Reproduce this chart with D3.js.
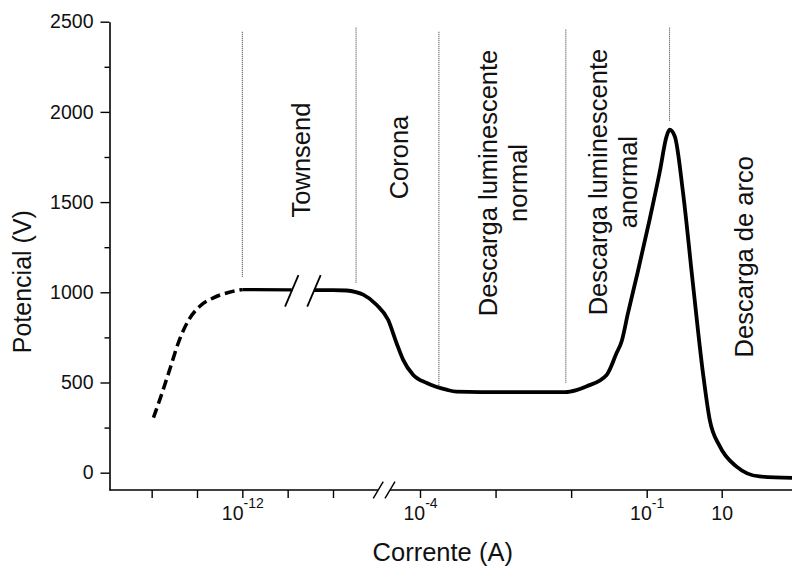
<!DOCTYPE html>
<html>
<head>
<meta charset="utf-8">
<script src="https://cdn.jsdelivr.net/npm/d3@7"></script>
<style>
body { margin: 0; background: #fff; }
text { font-family: "Liberation Sans", Arial, sans-serif; fill: #111; }
</style>
</head>
<body>
<div id="chart"></div>
<script>
// curve values: log10 of the current (A) and potential (V)
var dashedI = [-13.96, -13.77, -13.58, -13.4, -13.18, -12.95, -12.65, -12.29, -12];
var dashedV = [305, 442, 589, 728, 848, 920, 968, 1000, 1015];

var townsendI = [-12, -10.91];
var townsendV = [1015, 1013];

var mainI = [-10.42, -10, -9.06, -8.42, -7.92, -7, -6.2, -5.62, -5.17, -4.48, -3.91, -3.65, -3.52, -3.2, -2.41,
             -2.08, -1.93, -1.8, -1.53, -1.4, -1.33, -1.25, -1.12, -0.92, -0.65, -0.47, -0.39, -0.25, -0.03,
             0.23, 0.5, 0.68, 0.95, 1.39, 2.01, 2.88];
var mainV = [1012, 1012, 1010, 1001, 987, 931, 848, 719, 627, 543, 497, 460, 449, 447, 447,
             447, 458, 478, 542, 662, 730, 880, 1110, 1405, 1670, 1864, 1901, 1864, 1550,
             1052, 553, 294, 146, 35, -21, -29];

// region dividers (dotted)
var dividerI = [-12, -8.41, -3.75, -2.07, -0.39];
var dividerTop = [2444, 2467, 2444, 2456, 2467];
var dividerBottom = [1086, 1053, 478, 499, 1947];

// region labels, anchored in data units
var regionLabels = [
  {lines: ["Townsend"], i: -10.51, v: 1733},
  {lines: ["Corona"], i: -4.83, v: 1747},
  {lines: ["Descarga luminescente", "normal"], i: -2.98, v: 1606},
  {lines: ["Descarga luminescente", "anormal"], i: -1.52, v: 1611},
  {lines: ["Descarga de arco"], i: 1.83, v: 1197}
];

var xTickValues = [-14, -13, -12, -11, -10, -4, -3, -2, -1, 1];
var xTickBase = ["", "", "10", "", "", "10", "", "", "10", "10"];
var xTickExp = ["", "", "-12", "", "", "-4", "", "", "-1", ""];

var yMajor = [0, 500, 1000, 1500, 2000, 2500];
var yMinor = [250, 750, 1250, 1750, 2250];

// break marks: on the curve and on the current axis
var curveBreakI = [-10.91, -10.42];
var curveBreakV = 1008;
var axisBreakI = [-6.88, -6.07];

var width = 792, height = 567;

var svg = d3.select("#chart").append("svg")
  .attr("width", width)
  .attr("height", height);

// broken axis: piecewise linear in log10(I)
var x = d3.scaleLinear()
  .domain([-14.93, -10, -4, -1, 1, 2.88])
  .range([109.5, 333, 420, 646.7, 721.7, 792]);

var y = d3.scaleLinear()
  .domain([-96, 2500])
  .range([490, 21.7]);

var x0 = x.domain()[0], x1 = x.domain()[x.domain().length - 1];

// dotted dividers
svg.selectAll(".divider")
  .data(dividerI)
  .enter().append("line")
  .attr("class", "divider")
  .attr("x1", function (d) { return x(d); })
  .attr("x2", function (d) { return x(d); })
  .attr("y1", function (d, i) { return y(dividerTop[i]); })
  .attr("y2", function (d, i) { return y(dividerBottom[i]); })
  .attr("stroke", "#333")
  .attr("stroke-width", 1)
  .attr("stroke-dasharray", "1,1");

var line = d3.line()
  .x(function (d) { return x(d[0]); })
  .y(function (d) { return y(d[1]); })
  .curve(d3.curveMonotoneX);

function pairs(a, b) {
  return a.map(function (d, i) { return [d, b[i]]; });
}

svg.append("path")
  .datum(pairs(dashedI, dashedV))
  .attr("d", line)
  .attr("fill", "none")
  .attr("stroke", "#000")
  .attr("stroke-width", 3.5)
  .attr("stroke-dasharray", "10,5");

svg.append("path")
  .datum(pairs(townsendI, townsendV))
  .attr("d", line)
  .attr("fill", "none")
  .attr("stroke", "#000")
  .attr("stroke-width", 3.2);

svg.append("path")
  .datum(pairs(mainI, mainV))
  .attr("d", line)
  .attr("fill", "none")
  .attr("stroke", "#000")
  .attr("stroke-width", 3.8)
  .attr("stroke-linejoin", "round");

// "//" on the curve
svg.selectAll(".cbreak")
  .data(curveBreakI)
  .enter().append("line")
  .attr("class", "cbreak")
  .attr("x1", function (d) { return x(d) - 6.7; })
  .attr("x2", function (d) { return x(d) + 6.7; })
  .attr("y1", y(curveBreakV) + 15.8)
  .attr("y2", y(curveBreakV) - 15.8)
  .attr("stroke", "#000")
  .attr("stroke-width", 1.8);

// y axis
var yAxis = svg.append("g")
  .attr("transform", "translate(" + x(x0) + ",0)")
  .call(d3.axisLeft(y).tickValues(yMajor).tickSize(9).tickSizeOuter(0).tickPadding(7).tickFormat(d3.format("d")));
yAxis.select(".domain").attr("stroke-width", 1.6);
yAxis.selectAll(".tick line").attr("stroke-width", 1.4);
yAxis.selectAll("text")
  .attr("font-size", 19.5)
  .attr("font-family", "Liberation Sans, Arial, sans-serif")
  .attr("fill", "#111");

var yMinorAxis = svg.append("g")
  .attr("transform", "translate(" + x(x0) + ",0)")
  .call(d3.axisLeft(y).tickValues(yMinor).tickSize(5).tickFormat(""));
yMinorAxis.select(".domain").remove();
yMinorAxis.selectAll(".tick line").attr("stroke-width", 1.4);

// x axis with a break
var xAxis = svg.append("g")
  .attr("transform", "translate(0," + y(-96) + ")")
  .call(d3.axisBottom(x).tickValues(xTickValues).tickSize(8).tickPadding(8.2).tickFormat(""));
xAxis.select(".domain").remove();
xAxis.selectAll(".tick line").attr("stroke-width", 1.4);
xAxis.selectAll(".tick text")
  .attr("font-size", 19.5)
  .attr("font-family", "Liberation Sans, Arial, sans-serif")
  .attr("fill", "#111")
  .each(function (d) {
    var k = xTickValues.indexOf(d);
    var t = d3.select(this);
    t.text(xTickBase[k]);
    if (xTickExp[k]) {
      t.append("tspan")
        .attr("dy", -12)
        .attr("font-size", 14)
        .text(xTickExp[k]);
    }
  });

var axisSegs = [[x0, axisBreakI[0]], [axisBreakI[1], x1]];
xAxis.selectAll(".seg")
  .data(axisSegs)
  .enter().append("line")
  .attr("class", "seg")
  .attr("x1", function (d) { return x(d[0]); })
  .attr("x2", function (d) { return x(d[1]); })
  .attr("stroke", "#000")
  .attr("stroke-width", 1.6);

xAxis.selectAll(".abreak")
  .data(axisBreakI)
  .enter().append("line")
  .attr("class", "abreak")
  .attr("x1", function (d) { return x(d) - 5; })
  .attr("x2", function (d) { return x(d) + 5; })
  .attr("y1", 8.3)
  .attr("y2", -8.3)
  .attr("stroke", "#000")
  .attr("stroke-width", 1.4);

// axis titles
svg.append("text")
  .attr("x", (x(x0) + x(x1)) / 2 - 8)
  .attr("y", 561)
  .attr("text-anchor", "middle")
  .attr("font-size", 25.5)
  .text("Corrente (A)");

svg.append("text")
  .attr("transform", "translate(31," + y(1059) + ") rotate(-90)")
  .attr("text-anchor", "middle")
  .attr("font-size", 25)
  .text("Potencial (V)");

// region labels
regionLabels.forEach(function (r) {
  var t = svg.append("text")
    .attr("transform", "translate(" + x(r.i) + "," + y(r.v) + ") rotate(-90)")
    .attr("text-anchor", "middle")
    .attr("font-size", 25.5);
  r.lines.forEach(function (s, k) {
    t.append("tspan")
      .attr("x", 0)
      .attr("y", k * 30)
      .text(s);
  });
});
</script>
</body>
</html>
